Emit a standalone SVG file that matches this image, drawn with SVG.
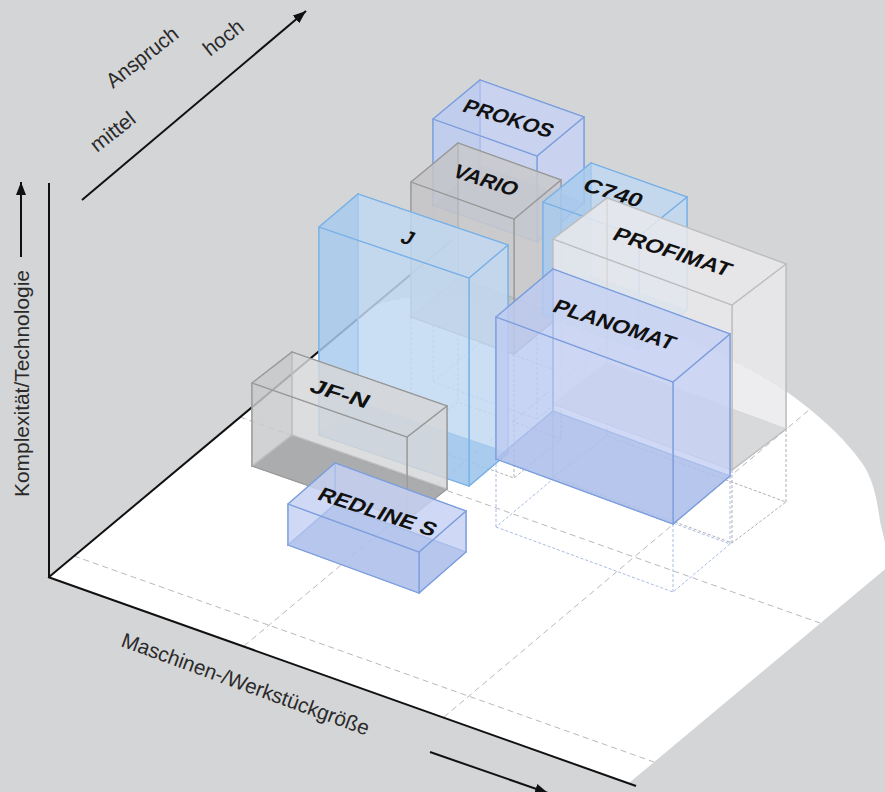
<svg xmlns="http://www.w3.org/2000/svg" width="885" height="792" viewBox="0 0 885 792">
<defs>
<marker id="arr" markerUnits="userSpaceOnUse" markerWidth="14" markerHeight="10" refX="13" refY="5" orient="auto"><path d="M0,0 L13,5 L0,10 z" fill="#111"/></marker>
</defs>
<style>
.grid{fill:none;stroke:#b8b9bb;stroke-width:1;stroke-dasharray:6 4}
.pb{fill:none;stroke:#a9bce6;stroke-width:1;stroke-dasharray:3 2}
.pg{fill:none;stroke:#b0b0b2;stroke-width:1;stroke-dasharray:3 2}
.axis{fill:none;stroke:#111;stroke-width:2}
.lav{fill:#c6d2f4;fill-opacity:.6;stroke:#7d9fdd;stroke-width:1.2}
.lav-s{fill:#a9bbec;fill-opacity:.6;stroke:#7d9fdd;stroke-width:1.2}
.lav-b{fill:#7d9ad6;fill-opacity:.75;stroke:#7d9fdd;stroke-width:1.2}
.sky{fill:#c2d9f2;fill-opacity:.6;stroke:#79b1e6;stroke-width:1.2}
.sky-s{fill:#6aa6e4;fill-opacity:.6;stroke:#79b1e6;stroke-width:1.2}
.sky-b{fill:#5d9edd;fill-opacity:.75;stroke:#79b1e6;stroke-width:1.2}
.gry{fill:#cacacc;fill-opacity:.6;stroke:#9a9a9a;stroke-width:1.2}
.gry-s{fill:#b9b9bc;fill-opacity:.6;stroke:#9a9a9a;stroke-width:1.2}
.gry-b{fill:#9e9ea1;fill-opacity:.7;stroke:#9a9a9a;stroke-width:1.2}
.lgt{fill:#e9eaec;fill-opacity:.6;stroke:#bdbdbd;stroke-width:1.2}
.lgt-b{fill:#a4a5a7;fill-opacity:.7;stroke:#bdbdbd;stroke-width:1.2}
.jf{fill:#d6d7d9;fill-opacity:.6;stroke:#999;stroke-width:1.2}
.jf-s{fill:#a6a6a8;fill-opacity:.6;stroke:#999;stroke-width:1.2}
.jf-b{fill:#3c3c3e;fill-opacity:.75;stroke:#999;stroke-width:1.2}
.lbl{font-family:"Liberation Sans","DejaVu Sans",sans-serif;font-weight:bold;font-size:20px;fill:#111}
.axl{font-family:"Liberation Sans Narrow","Liberation Sans","DejaVu Sans Condensed",sans-serif;font-size:21px;fill:#2a2a2a}
</style>
<rect width="885" height="792" fill="#d4d5d7"/>
<g id="floor">
<path fill="#fff" d="M49,577 L375,304 C385.3,302.5 406.2,294.5 437,295 C467.8,295.5 519.5,300 560,307 C600.5,314 642.2,322.8 680,337 C717.8,351.2 756.7,371 787,392 C817.3,413 846.2,440 862,463 C877.8,486 877.5,512.8 882,530 C886.5,547.2 887.8,560 889,566 L629,783 Z"/>
<path class="grid" d="M375,304 C385.3,302.5 406.2,294.5 437,295 C467.8,295.5 519.5,300 560,307 C600.5,314 642.2,322.8 680,337 C717.8,351.2 756.7,371 787,392"/>
<line class="grid" x1="74" y1="556" x2="654" y2="762"/>
<line class="grid" x1="240" y1="417" x2="820" y2="623"/>
<line class="grid" x1="244" y1="646" x2="631" y2="323"/>
<line class="grid" x1="444" y1="717" x2="809" y2="410"/>
</g>
<g id="projections">
<path class="pb" d="M433,205V382M537,242V419M584,203V380M480,166V343M433,382L537,419L584,380L480,343Z"/>
<path class="pg" d="M411,317V441M514,354V478M561,315V439M458,278V402M411,441L514,478L561,439L458,402Z"/>
<path class="pg" d="M553,404V477M732,470V543M786,429V502M607,363V436M553,477L732,543L786,502L607,436Z"/>
<path class="pb" d="M496,459V527M673,524V592M730,476V544M553,411V479M496,527L673,592L730,544L553,479Z"/>
</g>
<g id="connectors">
<line class="axis" x1="49" y1="577" x2="452" y2="240"/>
<line class="axis" x1="49" y1="183" x2="49" y2="578"/>
<line class="axis" x1="48" y1="577" x2="636" y2="786" stroke-width="2.5"/>
<line class="axis" x1="82" y1="200" x2="306" y2="11" marker-end="url(#arr)"/>
<line class="axis" x1="21" y1="257" x2="21" y2="182" marker-end="url(#arr)"/>
<line class="axis" x1="430" y1="752" x2="548" y2="793" marker-end="url(#arr)"/>
</g>
<g id="prokos">
<polygon class="lav-b" points="433,205 537,242 584,203 480,166"/>
<polygon class="lav" points="480,166 584,203 584,117 480,80"/>
<polygon class="lav-s" points="433,205 480,166 480,80 433,119"/>
<polygon class="lav" points="537,242 584,203 584,117 537,156"/>
<polygon class="lav" points="433,205 537,242 537,156 433,119"/>
<polygon class="lav" points="433,119 537,156 584,117 480,80"/>
<text class="lbl" transform="translate(461,111) rotate(17) skewX(-14)" textLength="92" lengthAdjust="spacingAndGlyphs">PROKOS</text>
</g>
<g id="vario">
<polygon class="gry-b" points="411,317 514,354 561,315 458,278"/>
<polygon class="gry" points="458,278 561,315 561,180 458,143"/>
<polygon class="gry-s" points="411,317 458,278 458,143 411,182"/>
<polygon class="gry" points="514,354 561,315 561,180 514,219"/>
<polygon class="gry" points="411,317 514,354 514,219 411,182"/>
<polygon class="gry" points="411,182 514,219 561,180 458,143"/>
<text class="lbl" transform="translate(451,176) rotate(18) skewX(-14)" textLength="66" lengthAdjust="spacingAndGlyphs">VARIO</text>
</g>
<g id="c740">
<polygon class="sky-b" points="543,315 639,349 687,310 591,276"/>
<polygon class="sky" points="591,276 687,310 687,197 591,163"/>
<polygon class="sky-s" points="543,315 591,276 591,163 543,202"/>
<polygon class="sky" points="639,349 687,310 687,197 639,236"/>
<polygon class="sky" points="543,315 639,349 639,236 543,202"/>
<polygon class="sky" points="543,202 639,236 687,197 591,163"/>
<text class="lbl" transform="translate(581,190) rotate(17) skewX(-14)" textLength="60" lengthAdjust="spacingAndGlyphs">C740</text>
</g>
<g id="profimat">
<polygon class="lgt-b" points="553,404 732,470 786,429 607,363"/>
<polygon class="lgt" points="607,363 786,429 786,264 607,198"/>
<polygon class="lgt" points="553,404 607,363 607,198 553,239"/>
<polygon class="lgt" points="732,470 786,429 786,264 732,305"/>
<polygon class="lgt" points="553,404 732,470 732,305 553,239"/>
<polygon class="lgt" points="553,239 732,305 786,264 607,198"/>
<text class="lbl" transform="translate(611,239) rotate(18) skewX(-14)" textLength="122" lengthAdjust="spacingAndGlyphs">PROFIMAT</text>
</g>
<g id="j">
<polygon class="sky-b" points="319,435 469,486 508,453 358,402"/>
<polygon class="sky" points="358,402 508,453 508,245 358,194"/>
<polygon class="sky-s" points="319,435 358,402 358,194 319,227"/>
<polygon class="sky" points="469,486 508,453 508,245 469,278"/>
<polygon class="sky" points="319,435 469,486 469,278 319,227"/>
<polygon class="sky" points="319,227 469,278 508,245 358,194"/>
<text class="lbl" transform="translate(399,242) rotate(18) skewX(-14)">J</text>
</g>
<g id="planomat">
<polygon class="lav-b" points="496,459 673,524 730,476 553,411"/>
<polygon class="lav" points="553,411 730,476 730,334 553,269"/>
<polygon class="lav-s" points="496,459 553,411 553,269 496,317"/>
<polygon class="lav" points="673,524 730,476 730,334 673,382"/>
<polygon class="lav" points="496,459 673,524 673,382 496,317"/>
<polygon class="lav" points="496,317 673,382 730,334 553,269"/>
<text class="lbl" transform="translate(551,311) rotate(18) skewX(-14)" textLength="126" lengthAdjust="spacingAndGlyphs">PLANOMAT</text>
</g>
<g id="jf-n">
<polygon class="jf-b" points="252,466 407,520 447,489 292,435"/>
<polygon class="jf" points="292,435 447,489 447,406 292,352"/>
<polygon class="jf-s" points="252,466 292,435 292,352 252,383"/>
<polygon class="jf" points="407,520 447,489 447,406 407,437"/>
<polygon class="jf" points="252,466 407,520 407,437 252,383"/>
<polygon class="jf" points="252,383 407,437 447,406 292,352"/>
<text class="lbl" transform="translate(308,391) rotate(17) skewX(-14)" textLength="60" lengthAdjust="spacingAndGlyphs">JF-N</text>
</g>
<g id="redline-s">
<polygon class="lav-b" points="288,545 419,593 466,552 335,504"/>
<polygon class="lav" points="335,504 466,552 466,511 335,463"/>
<polygon class="lav" points="288,545 335,504 335,463 288,504"/>
<polygon class="lav" points="419,593 466,552 466,511 419,552"/>
<polygon class="lav" points="288,545 419,593 419,552 288,504"/>
<polygon class="lav" points="288,504 419,552 466,511 335,463"/>
<text class="lbl" transform="translate(316,499) rotate(18) skewX(-14)" textLength="122" lengthAdjust="spacingAndGlyphs">REDLINE S</text>
</g>
<g id="axis-labels">
<text class="axl" transform="translate(29,497) rotate(-90)" textLength="227" lengthAdjust="spacingAndGlyphs">Komplexität/Technologie</text>
<text class="axl" transform="translate(120,646) rotate(20)" textLength="262" lengthAdjust="spacingAndGlyphs">Maschinen-/Werkstückgröße</text>
<text class="axl" transform="translate(113,89) rotate(-38)" textLength="85" lengthAdjust="spacingAndGlyphs">Anspruch</text>
<text class="axl" transform="translate(210,57) rotate(-38)" textLength="45" lengthAdjust="spacingAndGlyphs">hoch</text>
<text class="axl" transform="translate(97,153) rotate(-38)" textLength="51" lengthAdjust="spacingAndGlyphs">mittel</text>
</g>
</svg>
